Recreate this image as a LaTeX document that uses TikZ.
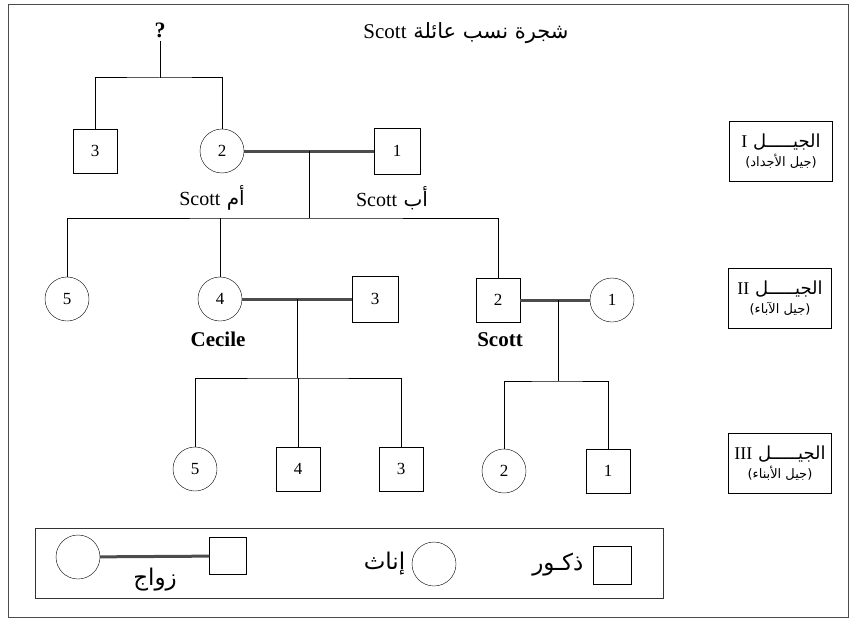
\documentclass[tikz,border=0pt]{standalone}
\usepackage{fontspec}
\setmainfont{Liberation Serif}
\newfontfamily\arabicfont[Script=Arabic]{DejaVu Sans}
\TeXXeTstate=1
\usetikzlibrary{positioning,calc}

\newcommand{\ar}[1]{{\arabicfont\beginR #1\endR}}
\newcommand{\lat}[1]{\beginL{\rmfamily #1}\endL}

\begin{document}
\begin{tikzpicture}[
    x=1pt, y=-1pt,
    font=\fontsize{17}{20}\selectfont,
    female/.style={draw,circle,minimum size=44pt,inner sep=0pt},
    male/.style={draw,rectangle,minimum size=44pt,inner sep=0pt},
    genbox/.style={draw,minimum width=103pt,minimum height=60pt,align=center,inner sep=2pt},
    lbl/.style={font=\fontsize{20}{24}\selectfont},
    keytext/.style={font=\fontsize{23}{26}\selectfont},
    marriage/.style={line width=3pt,black!70},
    kin/.style={line width=1pt}
    ]
    \useasboundingbox (0,0) rectangle (853,623);
    \draw[black!70] (8,4) rectangle (848,617);

    \node[lbl,font=\fontsize{21}{24}\selectfont] (title) at (466,33) {\ar{شجرة نسب عائلة \lat{Scott}}};

    % generation I
    \node[lbl,font=\fontsize{22}{24}\selectfont] (q) at (160,30) {\textbf{?}};
    \node[male] (I3) at (95,151) {3};
    \node[female] (I2) at (222,151) {2};
    \node[male,minimum size=46pt] (I1) at (397,151) {1};
    \node[lbl] (mom) at (212,198) {\ar{أم \lat{Scott}}};
    \node[lbl] (dad) at (392,198) {\ar{أب \lat{Scott}}};

    % generation II
    \node[female] (II5) at (67,299) {5};
    \node[female] (II4) at (220,299) {4};
    \node[male,minimum size=46pt] (II3) at (375,299) {3};
    \node[male] (II2) at (498,300) {2};
    \node[female] (II1) at (612,300) {1};
    \node[lbl,font=\fontsize{21}{24}\selectfont] (cecile) at (218,339) {\textbf{Cecile}};
    \node[lbl,font=\fontsize{21}{24}\selectfont] (scott) at (500,340) {\textbf{Scott}};

    % generation III
    \node[female] (III5) at (195,469) {5};
    \node[male] (III4) at (298,469) {4};
    \node[male] (III3) at (401,469) {3};
    \node[female] (III2) at (504,471) {2};
    \node[male] (III1) at (608,471) {1};

    % couples
    \coordinate (mI) at ($(I2)!0.5!(I1)$);
    \coordinate (mIIa) at ($(II4)!0.5!(II3)$);
    \coordinate (mIIb) at (558,300);
    \coordinate (top) at (160,78);
    \coordinate (sibII) at (mI |- 0,218);
    \coordinate (sibIIIa) at (mIIa |- 0,378);
    \coordinate (sibIIIb) at (mIIb |- 0,381);

    \draw[marriage] (I2) -- (I1);
    \draw[marriage] (II4) -- (II3);
    \draw[marriage] (II2) -- (II1);

    \draw[kin] (q) -- (top);
    \draw[kin] (I3.north) |- (top) -| (I2.north);
    \draw[kin] (mI) -- (sibII);
    \draw[kin] (II5.north) |- (sibII) -| (II2.north);
    \draw[kin] (II4.north) -- (II4.north |- sibII);
    \draw[kin] (mIIa) -- (sibIIIa);
    \draw[kin] (III5.north) |- (sibIIIa) -| (III3.north);
    \draw[kin] (III4.north) -- (III4.north |- sibIIIa);
    \draw[kin] (mIIb) -- (sibIIIb);
    \draw[kin] (III2.north) |- (sibIIIb) -| (III1.north);

    % generation boxes
    \node[genbox] (genI) at (781,151) {{\fontsize{18}{21}\selectfont\ar{الجيـــــل \lat{I}}}\\[-1pt]{\fontsize{13}{15}\selectfont\ar{(جيل الأجداد)}}};
    \node[genbox] (genII) at (780,298) {{\fontsize{18}{21}\selectfont\ar{الجيـــــل \lat{II}}}\\[-1pt]{\fontsize{13}{15}\selectfont\ar{(جيل الآباء)}}};
    \node[genbox] (genIII) at (780,463) {{\fontsize{18}{21}\selectfont\ar{الجيـــــل \lat{III}}}\\[-1pt]{\fontsize{13}{15}\selectfont\ar{(جيل الأبناء)}}};

    % legend
    \node[draw,black!80,minimum width=628pt,minimum height=70pt] (legend) at (349,563) {};
    \node[female] (lgf) at (78,557) {};
    \node[male,minimum size=37pt] (lgm) at (228,556) {};
    \draw[marriage] (lgf) -- (lgm);
    \node[keytext] (lgmar) at (155,580) {\ar{زواج}};
    \node[female] (lgfem) at (434,564) {};
    \node[keytext, left=3pt of lgfem] (lgfemtxt) {\ar{إناث}};
    \node[male,minimum size=38pt] (lgmale) at (612,565) {};
    \node[keytext, left=6pt of lgmale] (lgmaletxt) {\ar{ذكـور}};
\end{tikzpicture}
\end{document}
